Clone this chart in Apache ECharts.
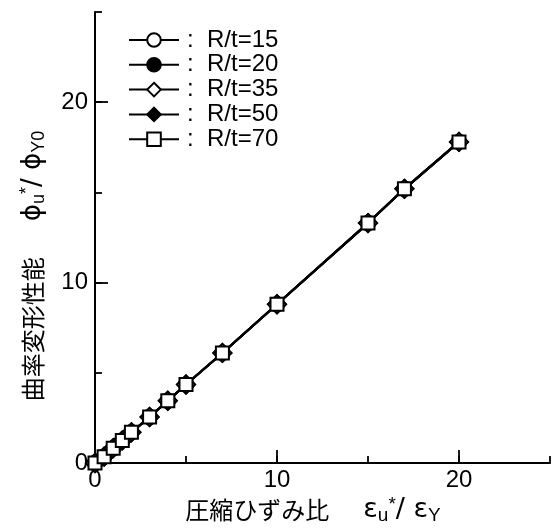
<!DOCTYPE html>
<html>
<head>
<meta charset="utf-8">
<script src="https://cdn.jsdelivr.net/npm/echarts@6/dist/echarts.min.js"></script>
<style>
html,body{margin:0;padding:0;background:#fff;}
#c{width:557px;height:528px;}
</style>
</head>
<body>
<div id="c"></div>
<script>
// ---- data ----
var seriesNames = ['R/t=15', 'R/t=20', 'R/t=35', 'R/t=50', 'R/t=70'];
var strainRatio = [0, 0.5, 1, 1.5, 2, 3, 4, 5, 7, 10, 15, 17, 20];        // εu*/εY
var curvRatio   = [0, 0.35, 0.82, 1.25, 1.7, 2.55, 3.45, 4.35, 6.1, 8.8, 13.3, 15.2, 17.8]; // φu*/φY0
var xTicks = [0, 10, 20];
var yTicks = [0, 10, 20];

var markers = [
  {symbol: 'circle', size: 14, fill: '#fff', z: 4},
  {symbol: 'circle', size: 14, fill: '#000', z: 2},
  {symbol: 'diamond', size: 18, fill: '#fff', z: 5},
  {symbol: 'diamond', size: 18, fill: '#000', z: 3},
  {symbol: 'rect', size: 13, fill: '#fff', z: 6}
];

var pts = strainRatio.map(function (x, i) { return [x, curvRatio[i]]; });

var series = seriesNames.map(function (n, i) {
  var m = markers[i];
  return {
    name: n,
    type: 'line',
    data: pts,
    clip: false,
    z: m.z,
    symbol: m.symbol,
    symbolSize: m.size,
    showAllSymbol: true,
    lineStyle: {color: '#000', width: 2.2},
    itemStyle: {color: m.fill, borderColor: '#000', borderWidth: 2}
  };
});

var tickFmt = function (list) {
  return function (v) { return list.indexOf(v) >= 0 ? String(v) : ''; };
};

var FONT = 'Liberation Sans';

var chart = echarts.init(document.getElementById('c'), null, {renderer: 'canvas'});
chart.setOption({
  animation: false,
  backgroundColor: '#fff',
  textStyle: {fontFamily: FONT},
  grid: {left: 95, right: 7, top: 12, bottom: 65, outerBoundsMode: 'none'},
  legend: {
    orient: 'vertical',
    left: 128,
    top: 28,
    padding: 0,
    itemWidth: 50,
    itemHeight: 17,
    itemGap: 0.8,
    formatter: function (n) { return ':  ' + n; },
    textStyle: {fontSize: 24, color: '#000', fontFamily: FONT, padding: [0, 0, 0, 3]},
    data: seriesNames
  },
  xAxis: [{
    type: 'value', min: 0, max: 25, interval: 5,
    axisLine: {lineStyle: {color: '#000', width: 2}},
    axisTick: {inside: true, length: 7, lineStyle: {color: '#000', width: 1.8}},
    axisLabel: {formatter: tickFmt(xTicks), color: '#000', fontSize: 24, margin: 5, fontFamily: FONT},
    splitLine: {show: false}
  }, {
    type: 'value', min: 0, max: 25, position: 'bottom',
    axisLine: {show: false},
    axisTick: {inside: true, length: 13, customValues: [10, 20], lineStyle: {color: '#000', width: 1.8}},
    axisLabel: {show: false},
    splitLine: {show: false}
  }],
  yAxis: [{
    type: 'value', min: 0, max: 25, interval: 5,
    axisLine: {lineStyle: {color: '#000', width: 2}},
    axisTick: {inside: true, length: 7, lineStyle: {color: '#000', width: 1.8}},
    axisLabel: {formatter: tickFmt(yTicks), color: '#000', fontSize: 24, margin: 7, fontFamily: FONT},
    splitLine: {show: false}
  }, {
    type: 'value', min: 0, max: 25, position: 'left',
    axisLine: {show: false},
    axisTick: {inside: true, length: 13, customValues: [10, 20], lineStyle: {color: '#000', width: 1.8}},
    axisLabel: {show: false},
    splitLine: {show: false}
  }],
  graphic: [{
    type: 'text',
    x: 313, y: 510,
    style: {
      text: '{jp|圧縮ひずみ比}{gap| }{g|ε}{sub|u}{sup|*}{g|/ ε}{sub|Y}',
      align: 'center', verticalAlign: 'middle', fill: '#000',
      rich: {
        jp: {fontFamily: 'Noto Sans CJK JP', fontSize: 24, lineHeight: 30, verticalAlign: 'middle', fill: '#000'},
        gap: {width: 34, fontSize: 10, lineHeight: 30},
        g: {fontFamily: 'DejaVu Sans', fontSize: 27, lineHeight: 30, verticalAlign: 'middle', fill: '#000'},
        sub: {fontFamily: FONT, fontSize: 19, lineHeight: 30, verticalAlign: 'bottom', fill: '#000'},
        sup: {fontFamily: FONT, fontSize: 19, lineHeight: 30, verticalAlign: 'top', fill: '#000'}
      }
    }
  }, {
    type: 'text',
    x: 33, y: 266, rotation: Math.PI / 2,
    style: {
      text: '{jp|曲率変形性能}{gap| }{g|ϕ}{sub|u}{sup|*}{g|/ ϕ}{sub|Y0}',
      align: 'center', verticalAlign: 'middle', fill: '#000',
      rich: {
        jp: {fontFamily: 'Noto Sans CJK JP', fontSize: 24, lineHeight: 30, verticalAlign: 'middle', fill: '#000'},
        gap: {width: 36, fontSize: 10, lineHeight: 30},
        g: {fontFamily: 'DejaVu Sans', fontSize: 26, lineHeight: 30, verticalAlign: 'middle', fill: '#000'},
        sub: {fontFamily: FONT, fontSize: 18, lineHeight: 30, verticalAlign: 'bottom', fill: '#000'},
        sup: {fontFamily: FONT, fontSize: 18, lineHeight: 30, verticalAlign: 'top', fill: '#000'}
      }
    }
  }],
  series: series
});
</script>
</body>
</html>
